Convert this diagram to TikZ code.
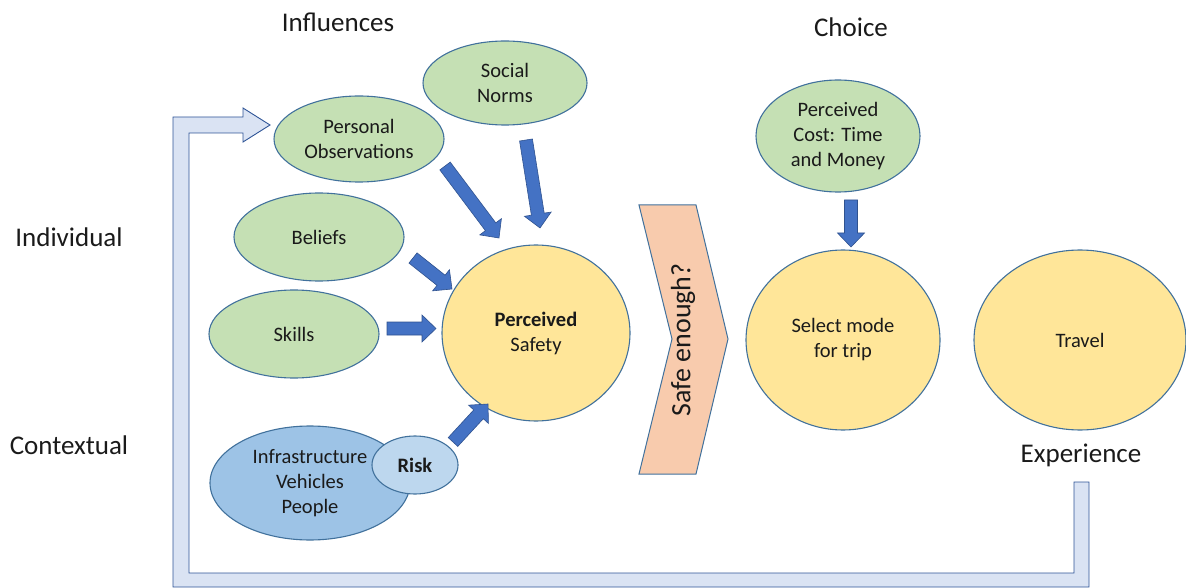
\documentclass[tikz,border=0pt]{standalone}
\usepackage{fontspec}
\setmainfont{Carlito}
\usetikzlibrary{shapes.geometric,calc}

\definecolor{greenfill}{HTML}{C5E0B4}
\definecolor{yellowfill}{HTML}{FFE699}
\definecolor{bluefill}{HTML}{9DC3E6}
\definecolor{lightbluefill}{HTML}{BDD7EE}
\definecolor{edgeblue}{HTML}{41719C}
\definecolor{arrowfill}{HTML}{4472C4}
\definecolor{arrowedge}{HTML}{2F528F}
\definecolor{chevfill}{HTML}{F8CBAD}
\definecolor{loopfill}{HTML}{DAE3F3}
\definecolor{loopedge}{HTML}{2F5597}
\definecolor{ink}{HTML}{1A1A1A}

\tikzset{
  bubble/.style={ellipse, draw=edgeblue, line width=1.1pt, inner sep=0pt,
    align=center, text=ink, font=\fontsize{20.5}{25}\selectfont},
  influence/.style={bubble, fill=greenfill},
  outcome/.style={bubble, fill=yellowfill},
  context/.style={bubble, fill=bluefill},
  riskbubble/.style={bubble, fill=lightbluefill},
  heading/.style={text=ink, font=\fontsize{27}{30}\selectfont, inner sep=0pt},
  barrow/.style={fill=arrowfill, draw=arrowedge, line width=0.6pt, line join=miter},
}

% block arrow of fixed shaft/head size from the first coordinate to the second
\newcommand\blockarrow[2]{%
  \filldraw[barrow] let \p1=($(#2)-(#1)$), \n1={atan2(\y1,\x1)}, \n2={veclen(\x1,\y1)} in
    ($(#1)+({\n1+90}:6.5pt)$)
    -- ($(#1)+({\n1}:{(\n2-14)*1pt})+({\n1+90}:6.5pt)$)
    -- ($(#1)+({\n1}:{(\n2-14)*1pt})+({\n1+90}:13.5pt)$)
    -- (#2)
    -- ($(#1)+({\n1}:{(\n2-14)*1pt})+({\n1-90}:13.5pt)$)
    -- ($(#1)+({\n1}:{(\n2-14)*1pt})+({\n1-90}:6.5pt)$)
    -- ($(#1)+({\n1-90}:6.5pt)$) -- cycle;}

\begin{document}
\begin{tikzpicture}[x=1pt, y=-1pt]
\useasboundingbox (0,0) rectangle (1186,588);

% feedback loop from experience back to the influences
\filldraw[fill=loopfill, draw=loopedge, line width=0.9pt, line join=miter]
  (1074,482) -- (1089,482) -- (1089,587) -- (173,587) -- (173,117)
  -- (243,117) -- (243,108) -- (270,125) -- (243,142) -- (243,133)
  -- (189,133) -- (189,573) -- (1074,573) -- cycle;

% headings
\node[heading] (hinf) at (338,22) {Influences};
\node[heading] (hcho) at (851,27) {Choice};
\node[heading] (hind) at (69,237) {Individual};
\node[heading] (hctx) at (69,445) {Contextual};
\node[heading] (hexp) at (1081,455) {Experience};

% influences
\node[influence, minimum width=164pt, minimum height=84pt] (norms) at (505,83) {Social\\Norms};
\node[influence, minimum width=170pt, minimum height=86pt] (obs) at (359,139) {Personal\\Observations};
\node[influence, minimum width=170pt, minimum height=88pt] (beliefs) at (319,237) {Beliefs};
\node[influence, minimum width=170pt, minimum height=88pt] (skills) at (294,334) {Skills};
\node[influence, minimum width=164pt, minimum height=112pt] (cost) at (838,136) {Perceived\\Cost: Time\\and Money};

% context
\node[context, minimum width=200pt, minimum height=114pt] (infra) at (310,483) {Infrastructure\\Vehicles\\People};
\node[riskbubble, minimum width=86pt, minimum height=58pt, font=\fontsize{20.5}{25}\selectfont\bfseries] (risk) at (415,465) {Risk};

% outcomes
\node[outcome, minimum width=188pt, minimum height=176pt] (safety) at (536,333) {\textbf{Perceived}\\Safety};
\node[outcome, minimum width=194pt, minimum height=180pt] (mode) at (843,340) {Select mode\\for trip};
\node[outcome, minimum width=212pt, minimum height=180pt] (travel) at (1080,340) {Travel};

% decision chevron
\filldraw[fill=chevfill, draw=edgeblue, line width=1pt, line join=miter]
  (639,205) -- (696,205) -- (728,339) -- (696,474) -- (639,474) -- (672,339) -- cycle;
\node[rotate=90, text=ink, font=\fontsize{28}{30}\selectfont, inner sep=0pt] (safe) at (683,340) {Safe enough?};

% arrow end points
\coordinate (obsA) at (445,166);   \coordinate (obsB) at (499,238);
\coordinate (normsA) at (526,140); \coordinate (normsB) at (540,228);
\coordinate (belA) at (413,258);   \coordinate (belB) at (452,289);
\coordinate (skA) at (387,328.5);  \coordinate (skB) at (436,328.5);
\coordinate (riskA) at (453,442);  \coordinate (riskB) at (488,404);
\coordinate (costA) at (851,200);  \coordinate (costB) at (851,247);

\blockarrow{obsA}{obsB}
\blockarrow{normsA}{normsB}
\blockarrow{belA}{belB}
\blockarrow{skA}{skB}
\blockarrow{riskA}{riskB}
\blockarrow{costA}{costB}
\end{tikzpicture}
\end{document}
